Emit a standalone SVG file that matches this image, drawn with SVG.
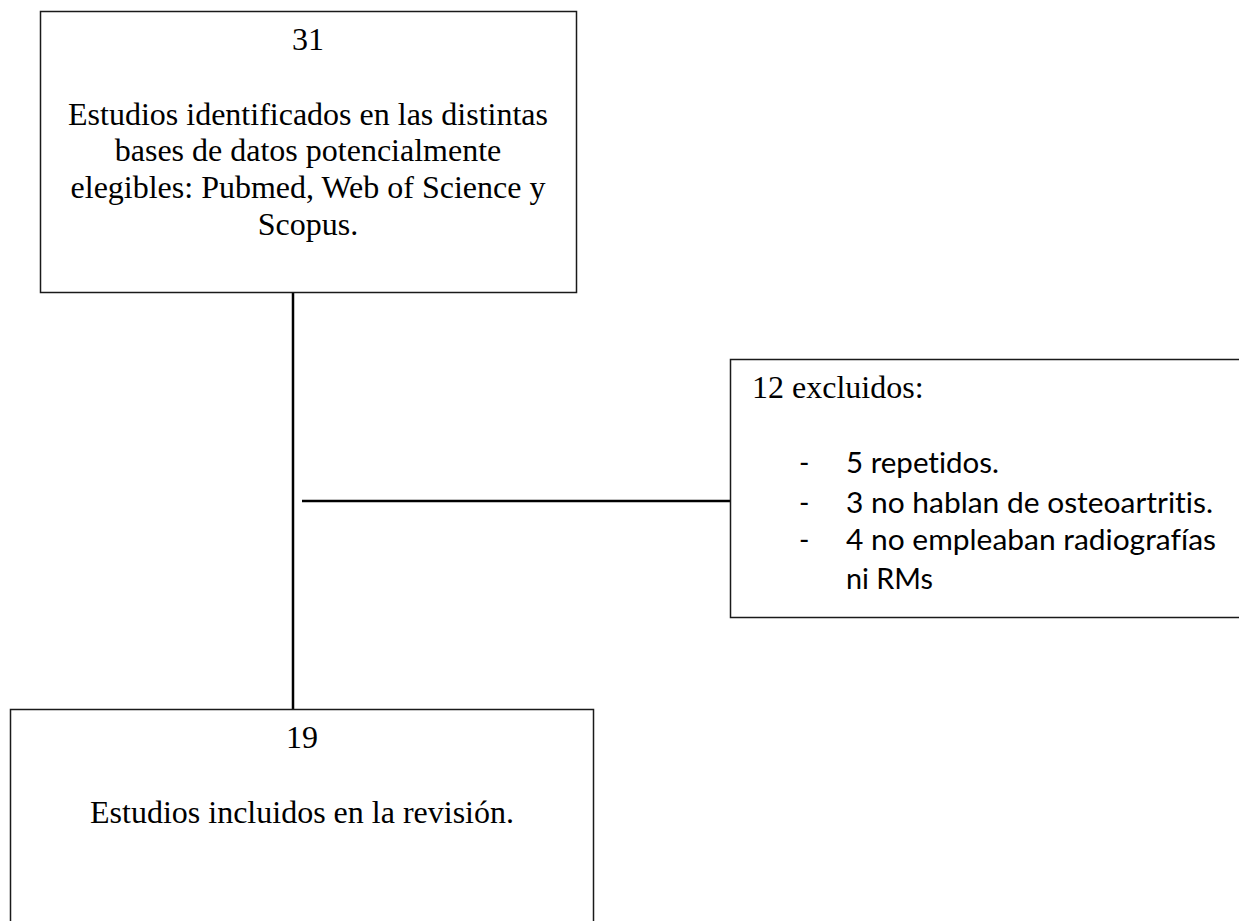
<svg xmlns="http://www.w3.org/2000/svg" width="1239" height="921" viewBox="0 0 1239 921">
<style>
.box{fill:#fff;stroke:#1a1a1a;stroke-width:1.5}
.conn{stroke:#000;stroke-width:2.5;fill:none}
.serif{font-family:"Liberation Serif","Times New Roman",serif;font-size:32px;fill:#000}
.sans{font-family:Lato,"Open Sans","Noto Sans",sans-serif;font-size:28px;fill:#000;font-variant-ligatures:none;font-feature-settings:"liga" 0,"clig" 0}
</style>
<rect width="1239" height="921" fill="#fff"/>
<g id="connectors">
<line class="conn" x1="293" y1="292" x2="293" y2="709"/>
<line class="conn" x1="302" y1="501" x2="730" y2="501"/>
</g>
<g id="node-identified">
<rect class="box" x="40.5" y="11.5" width="536" height="281"/>
<text class="serif" x="308" y="50" text-anchor="middle">31</text>
<text class="serif" x="308" y="125" text-anchor="middle">Estudios identificados en las distintas</text>
<text class="serif" x="308" y="161" text-anchor="middle">bases de datos potencialmente</text>
<text class="serif" x="308" y="198" text-anchor="middle">elegibles: Pubmed, Web of Science y</text>
<text class="serif" x="308" y="235" text-anchor="middle">Scopus.</text>
</g>
<g id="node-excluded">
<rect class="box" x="730.5" y="359.5" width="515" height="258"/>
<text class="serif" x="752" y="398">12 excluidos:</text>
<text class="sans" x="799" y="473">-</text>
<text class="sans" x="799" y="513">-</text>
<text class="sans" x="799" y="550">-</text>
<text class="sans" x="846" y="473" textLength="153" lengthAdjust="spacingAndGlyphs">5 repetidos.</text>
<text class="sans" x="846" y="513" textLength="367" lengthAdjust="spacingAndGlyphs">3 no hablan de osteoartritis.</text>
<text class="sans" x="846" y="550" textLength="370" lengthAdjust="spacingAndGlyphs">4 no empleaban radiografías</text>
<text class="sans" x="846" y="589" textLength="87" lengthAdjust="spacingAndGlyphs">ni RMs</text>
</g>
<g id="node-included">
<rect class="box" x="10.5" y="709.5" width="583" height="230"/>
<text class="serif" x="302" y="748" text-anchor="middle">19</text>
<text class="serif" x="302" y="823" text-anchor="middle">Estudios incluidos en la revisión.</text>
</g>
</svg>
